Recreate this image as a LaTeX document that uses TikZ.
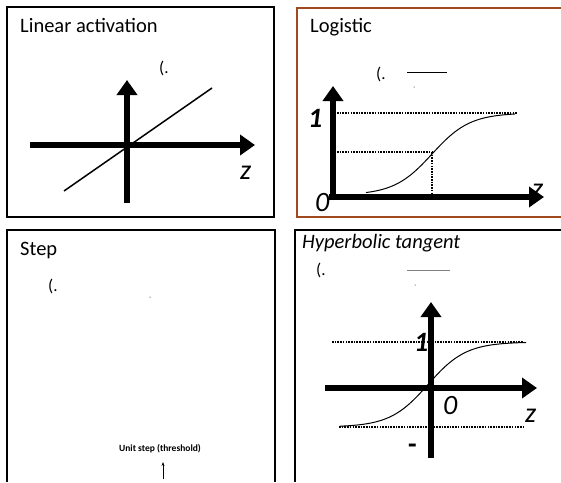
\documentclass[tikz,border=0pt]{standalone}
\usepackage{fontspec}
\setmainfont{Carlito}
\usetikzlibrary{arrows.meta}

\definecolor{framebrown}{RGB}{160,72,30}

\tikzset{
    panel/.style={draw=black, line width=1.4pt},
    axis/.style={line width=6pt, -{Triangle[length=15pt, width=20pt]}},
    guide/.style={line width=1.7pt, dash pattern=on 1.6pt off 1.1pt},
    title/.style={anchor=base west, inner sep=0pt, font=\fontsize{20.5}{22}\selectfont},
    axlabel/.style={anchor=base west, inner sep=0pt, font=\fontsize{28}{30}\selectfont\itshape},
    frag/.style={anchor=base west, inner sep=0pt, font=\fontsize{17}{18}\selectfont},
}

\begin{document}
\begin{tikzpicture}[x=1pt, y=-1pt]
\useasboundingbox (0,0) rectangle (561,482);

\begin{scope}
    \draw[panel] (7,7) rectangle (274,217);
    \node[title] (lintitle) at (20,32.5) {Linear activation};
    \node[frag] (linfrag) at (159,73) {(.};
    \coordinate (linx0) at (30,145);
    \coordinate (linx1) at (255,145);
    \coordinate (liny0) at (127,203);
    \coordinate (liny1) at (127,80);
    \draw[axis] (linx0) -- (linx1);
    \draw[axis] (liny0) -- (liny1);
    \draw[line width=1.5pt] (64,191) -- (212,88);
    \node[axlabel] (linz) at (240,179) {z};
\end{scope}

\begin{scope}
    \draw[framebrown, line width=1.4pt] (561,8) -- (297,8) -- (297,217) -- (561,217);
    \node[title] (logtitle) at (310,32.5) {Logistic};
    \node[frag] (logfrag) at (376,79) {(.};
    \draw[line width=1pt] (407,72) -- (447,72);
    \fill (414,87) circle (0.5pt);
    \node[axlabel] (logz) at (532,197) {z};
    \coordinate (logo) at (333,197);
    \coordinate (logx1) at (544,197);
    \coordinate (logy1) at (333,86);
    \draw[axis] (329,197) -- (logx1);
    \draw[axis] (logo) -- (logy1);
    \coordinate (loghalf) at (432,152);
    \draw[guide] (337,113) -- (517,113);
    \draw[guide] (337,152) -- (loghalf);
    \draw[guide] (loghalf) -- (432,195);
    \draw[line width=1pt, domain=366:515, samples=80, smooth]
        plot (\x, {195 - 82/(1+exp(-(\x-432)/19))});
    \node[axlabel, font=\fontsize{28}{30}\selectfont\bfseries\itshape] (logone) at (308,127) {1};
    \node[axlabel] (logzero) at (315,211) {0};
\end{scope}

\begin{scope}
    \draw[panel] (7,482) -- (7,230) -- (275,230) -- (275,482);
    \node[title] (steptitle) at (20,255) {Step};
    \node[frag] (stepfrag) at (48,291) {(.};
    \fill (150,297) circle (0.5pt);
    \node[font=\fontsize{9.5}{10}\selectfont\bfseries, inner sep=1pt] (steplabel) at (160,449) {Unit step (threshold)};
    \coordinate (stepfoot) at (163,479);
    \draw[line width=0.7pt, -{Stealth[length=4pt, width=3pt]}] (stepfoot) -- (163,462);
\end{scope}

\begin{scope}
    \draw[panel] (561,230) -- (295,230) -- (295,482);
    \node[title, font=\fontsize{20.5}{22}\selectfont\itshape] (tanhtitle) at (302,248) {Hyperbolic tangent};
    \node[frag] (tanhfrag) at (316,275) {(.};
    \draw[gray, line width=1pt] (407,270) -- (450,270);
    \fill (415,285) circle (0.5pt);
    \draw[guide] (332,342) -- (523,342);
    \draw[guide] (339,427) -- (523,427);
    \node[axlabel, font=\fontsize{28}{30}\selectfont\bfseries\itshape] (tanhone) at (414,351) {1};
    \coordinate (tanhx0) at (325,388);
    \coordinate (tanhx1) at (537,388);
    \coordinate (tanhy0) at (431,458);
    \coordinate (tanhy1) at (431,302);
    \draw[axis] (tanhx0) -- (tanhx1);
    \draw[axis] (tanhy0) -- (tanhy1);
    \draw[line width=1pt, domain=340:526, samples=90, smooth]
        plot (\x, {384.5 - 42.5*tanh((\x-428)/38)});
    \node[axlabel] (tanhzero) at (443,414) {0};
    \node[axlabel] (tanhz) at (525,422) {z};
    \node[axlabel, font=\fontsize{28}{30}\selectfont\bfseries] (tanhminus) at (408,453) {-};
\end{scope}

\end{tikzpicture}
\end{document}
